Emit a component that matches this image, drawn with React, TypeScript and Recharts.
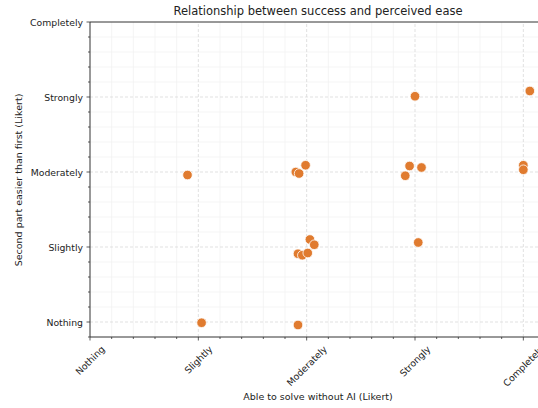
import { ScatterChart, Scatter, XAxis, YAxis, ReferenceLine } from "recharts";

// Likert answers (with the small jitter visible in the picture)
const ableToSolve = [0.9, 1.03, 1.9, 1.93, 1.99, 1.92, 1.96, 2.01, 2.03, 2.07, 1.92, 3.0, 2.95, 3.06, 2.91, 3.03, 4.06, 4.0, 4.0];
const secondEasier = [1.96, -0.01, 2.0, 1.98, 2.09, 0.91, 0.89, 0.92, 1.1, 1.03, -0.04, 3.01, 2.08, 2.06, 1.95, 1.06, 3.08, 2.09, 2.03];

const xLabels = ["Nothing", "Slightly", "Moderately", "Strongly", "Completely"];
const yLabels = ["Nothing", "Slightly", "Moderately", "Strongly", "Completely"];

const xTicks = Array.from({ length: 22 }, (_, i) => Math.round(i * 2) / 10);
const yTicks = Array.from({ length: 22 }, (_, i) => Math.round((i - 1) * 2) / 10);

const points = ableToSolve.map((x, i) => ({ x, y: secondEasier[i] }));

const FONT = '"DejaVu Sans", sans-serif';
const TICK_FONT = 9.3;
const PLOT_LEFT = 90;
const PLOT_BOTTOM = 337;
const INK = "#222";
const SPINE = "#333";

let ctx: CanvasRenderingContext2D | null = null;
function textWidth(s: string) {
    if (!ctx) ctx = document.createElement("canvas").getContext("2d");
    if (!ctx) return s.length * 5.5;
    ctx.font = `${TICK_FONT}px "DejaVu Sans"`;
    return ctx.measureText(s).width;
}

const isMajor = (v: number) => Math.abs(v - Math.round(v)) < 1e-6;

function XTick({ x, payload }: any) {
    const v = payload.value;
    const major = isMajor(v);
    const label = major ? xLabels[Math.round(v)] : null;
    let cy = 0;
    if (label) cy = 344 + (textWidth(label) + TICK_FONT) * 0.3536;
    return (
        <g>
            <line x1={x} x2={x} y1={PLOT_BOTTOM} y2={PLOT_BOTTOM + (major ? 3.5 : 2)} stroke={SPINE} strokeWidth={0.8} />
            {label && (
                <text
                    x={x}
                    y={cy}
                    textAnchor="middle"
                    dominantBaseline="central"
                    transform={`rotate(-45 ${x} ${cy})`}
                    fontSize={TICK_FONT}
                    fontFamily={FONT}
                    fill={INK}
                >
                    {label}
                </text>
            )}
        </g>
    );
}

function YTick({ y, payload }: any) {
    const v = payload.value;
    const major = isMajor(v);
    const label = major && v >= 0 ? yLabels[Math.round(v)] : null;
    return (
        <g>
            <line x1={PLOT_LEFT - (major ? 3.5 : 2)} x2={PLOT_LEFT} y1={y} y2={y} stroke={SPINE} strokeWidth={0.8} />
            {label && (
                <text x={PLOT_LEFT - 7} y={y} textAnchor="end" dominantBaseline="central" fontSize={TICK_FONT} fontFamily={FONT} fill={INK}>
                    {label}
                </text>
            )}
        </g>
    );
}

export default function App() {
    const minorX = xTicks.filter((v) => !isMajor(v) && v < 4.2);
    const minorY = yTicks.filter((v) => !isMajor(v) && v > -0.2);
    return (
        <div style={{ position: "fixed", left: 0, top: 0, width: 538, height: 408, overflow: "hidden", background: "#fff", fontFamily: FONT, color: INK }}>
            <ScatterChart width={560} height={408} margin={{ top: 22, right: 15, bottom: 0, left: 0 }}>
                <XAxis
                    type="number"
                    dataKey="x"
                    domain={[0, 4.2]}
                    ticks={xTicks}
                    interval={0}
                    tick={<XTick />}
                    tickLine={false}
                    axisLine={{ stroke: SPINE, strokeWidth: 1 }}
                    height={71}
                />
                <YAxis
                    type="number"
                    dataKey="y"
                    domain={[-0.2, 4]}
                    ticks={yTicks}
                    interval={0}
                    tick={<YTick />}
                    tickLine={false}
                    axisLine={{ stroke: SPINE, strokeWidth: 1 }}
                    width={PLOT_LEFT}
                />

                {minorX.map((v) => (
                    <ReferenceLine key={"mx" + v} x={v} stroke="#f0f0f0" strokeWidth={0.7} />
                ))}
                {minorY.map((v) => (
                    <ReferenceLine key={"my" + v} y={v} stroke="#f0f0f0" strokeWidth={0.7} />
                ))}
                {[1, 2, 3, 4].map((v) => (
                    <ReferenceLine key={"gx" + v} x={v} stroke="#d9d9d9" strokeWidth={0.8} strokeDasharray="3 2" />
                ))}
                {[0, 1, 2, 3].map((v) => (
                    <ReferenceLine key={"gy" + v} y={v} stroke="#d9d9d9" strokeWidth={0.8} strokeDasharray="3 2" />
                ))}
                <ReferenceLine y={4} stroke={SPINE} strokeWidth={1} />

                <Scatter
                    data={points}
                    isAnimationActive={false}
                    shape={(p: any) => <circle cx={p.cx} cy={p.cy} r={4.8} fill="#e07b2f" stroke="#fff" strokeWidth={0.8} />}
                />
            </ScatterChart>

            <div style={{ position: "absolute", left: 318, top: 12, transform: "translate(-50%, -50%)", fontSize: 11.5, whiteSpace: "nowrap", lineHeight: 1 }}>
                Relationship between success and perceived ease
            </div>
            <div style={{ position: "absolute", left: 318, top: 397, transform: "translate(-50%, -50%)", fontSize: 9.5, whiteSpace: "nowrap", lineHeight: 1 }}>
                Able to solve without AI (Likert)
            </div>
            <div style={{ position: "absolute", left: 19, top: 180, transform: "translate(-50%, -50%) rotate(-90deg)", fontSize: 9.5, whiteSpace: "nowrap", lineHeight: 1 }}>
                Second part easier than first (Likert)
            </div>
        </div>
    );
}
